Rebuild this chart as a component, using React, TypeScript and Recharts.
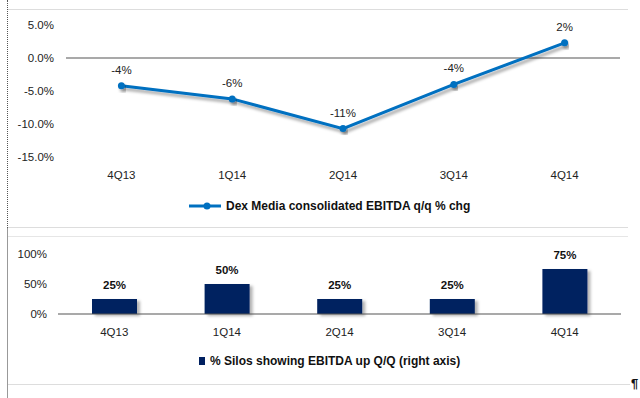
import React from 'react';
import {
  LineChart, Line, BarChart, Bar, XAxis, YAxis, ReferenceLine, LabelList, Legend,
} from 'recharts';

const categories = ['4Q13', '1Q14', '2Q14', '3Q14', '4Q14'];
const ebitdaChg = [-4.2, -6.2, -10.7, -4.0, 2.3];
const ebitdaLabels = ['-4%', '-6%', '-11%', '-4%', '2%'];
const silosUp = [25, 50, 25, 25, 75];
const silosLabels = ['25%', '50%', '25%', '25%', '75%'];
const lineTicks = [-15, -10, -5, 0, 5];
const barTicks = [0, 50, 100];
const lineName = 'Dex Media consolidated EBITDA q/q % chg';
const barName = '% Silos showing EBITDA up Q/Q (right axis)';

const lineData = categories.map((c, i) => ({ cat: c, v: ebitdaChg[i], label: ebitdaLabels[i] }));
const barData = categories.map((c, i) => ({ cat: c, v: silosUp[i], label: silosLabels[i] }));

const FONT = '"Liberation Sans", Arial, sans-serif';
const BLUE = '#0070C0';
const NAVY = '#002060';
const TEXT = '#222';
const tickStyle = { fontSize: 11.5, fill: TEXT, fontFamily: FONT };

const LineLegend = () => (
  <div style={{ display: 'flex', alignItems: 'center', fontFamily: FONT, fontSize: 12, fontWeight: 'bold', color: '#111', whiteSpace: 'nowrap' }}>
    <svg width={34} height={10} style={{ marginRight: 3 }}>
      <line x1={0} y1={5} x2={32} y2={5} stroke={BLUE} strokeWidth={3} />
      <circle cx={18} cy={5} r={3.5} fill={BLUE} />
    </svg>
    <span>{lineName}</span>
  </div>
);

const BarLegend = () => (
  <div style={{ display: 'flex', alignItems: 'center', fontFamily: FONT, fontSize: 12, fontWeight: 'bold', color: '#111', whiteSpace: 'nowrap' }}>
    <svg width={8} height={10} style={{ marginRight: 3 }}>
      <rect x={0} y={1} width={6} height={8} fill={NAVY} />
    </svg>
    <span>{barName}</span>
  </div>
);

export default function App() {
  return (
    <div style={{ position: 'absolute', left: 0, top: 0, width: 640, height: 398, background: '#fff', overflow: 'hidden', fontFamily: FONT }}>
      {/* frame lines */}
      <div style={{ position: 'absolute', left: 7, top: 0, height: 228, borderLeft: '1px dotted #555' }} />
      <div style={{ position: 'absolute', left: 7, top: 228, height: 170, width: 1, background: '#999' }} />
      <div style={{ position: 'absolute', left: 8, top: 9, width: 620, height: 1, background: '#ddd' }} />
      <div style={{ position: 'absolute', left: 8, top: 227, width: 620, height: 1, background: '#ddd' }} />
      <div style={{ position: 'absolute', left: 8, top: 236, width: 620, height: 1, background: '#e6e6e6' }} />
      <div style={{ position: 'absolute', left: 8, top: 384, width: 622, height: 1, background: '#ddd' }} />
      <div style={{ position: 'absolute', left: 631, top: 376, fontSize: 13, fontWeight: 'bold', color: '#111', fontFamily: FONT }}>¶</div>

      <div style={{ position: 'absolute', left: 0, top: 0 }}>
        <LineChart width={640} height={230} data={lineData} margin={{ top: 25, right: 20, bottom: 53, left: 0 }}>
          <defs>
            <filter id="shadowL" x="-10%" y="-20%" width="120%" height="160%">
              <feDropShadow dx={2} dy={3} stdDeviation={1.5} floodColor="#000" floodOpacity={0.35} />
            </filter>
          </defs>
          <XAxis dataKey="cat" scale="band" axisLine={false} tickLine={false} tick={tickStyle} tickMargin={8} height={20} interval={0} />
          <YAxis domain={[-15, 5]} ticks={lineTicks} axisLine={false} tickLine={false} width={66} tickMargin={6}
            tick={tickStyle} tickFormatter={(v: number) => `${v.toFixed(1)}%`} />
          <ReferenceLine y={0} stroke="#555" strokeWidth={1.2} />
          <Line dataKey="v" name={lineName} stroke={BLUE} strokeWidth={3} isAnimationActive={false}
            dot={{ r: 3.5, fill: BLUE, stroke: BLUE, strokeWidth: 0 }} filter="url(#shadowL)">
            <LabelList dataKey="label" position="top" offset={12} style={{ fontSize: 11.5, fill: TEXT, fontFamily: FONT }} />
          </Line>
          <Legend verticalAlign="middle" content={() => <LineLegend />} wrapperStyle={{ left: 189, top: 199, width: 340 }} />
        </LineChart>
      </div>

      <div style={{ position: 'absolute', left: 0, top: 230 }}>
        <BarChart width={640} height={168} data={barData} margin={{ top: 24, right: 19, bottom: 64, left: 0 }}>
          <defs>
            <filter id="shadowB" x="-20%" y="-20%" width="150%" height="150%">
              <feDropShadow dx={3} dy={2} stdDeviation={1.5} floodColor="#000" floodOpacity={0.3} />
            </filter>
          </defs>
          <XAxis dataKey="cat" axisLine={false} tickLine={false} tick={tickStyle} tickMargin={8} height={20} interval={0} />
          <YAxis domain={[0, 100]} ticks={barTicks} axisLine={false} tickLine={false} width={58} tickMargin={5}
            tick={tickStyle} tickFormatter={(v: number) => `${v}%`} />
          <Bar dataKey="v" name={barName} fill={NAVY} barSize={45} isAnimationActive={false} filter="url(#shadowB)">
            <LabelList dataKey="label" position="top" offset={10} style={{ fontSize: 11.5, fontWeight: 'bold', fill: '#111', fontFamily: FONT }} />
          </Bar>
          <ReferenceLine y={0} stroke="#555" strokeWidth={1.2} />
          <Legend verticalAlign="middle" content={() => <BarLegend />} wrapperStyle={{ left: 199, top: 124, width: 340 }} />
        </BarChart>
      </div>
    </div>
  );
}
